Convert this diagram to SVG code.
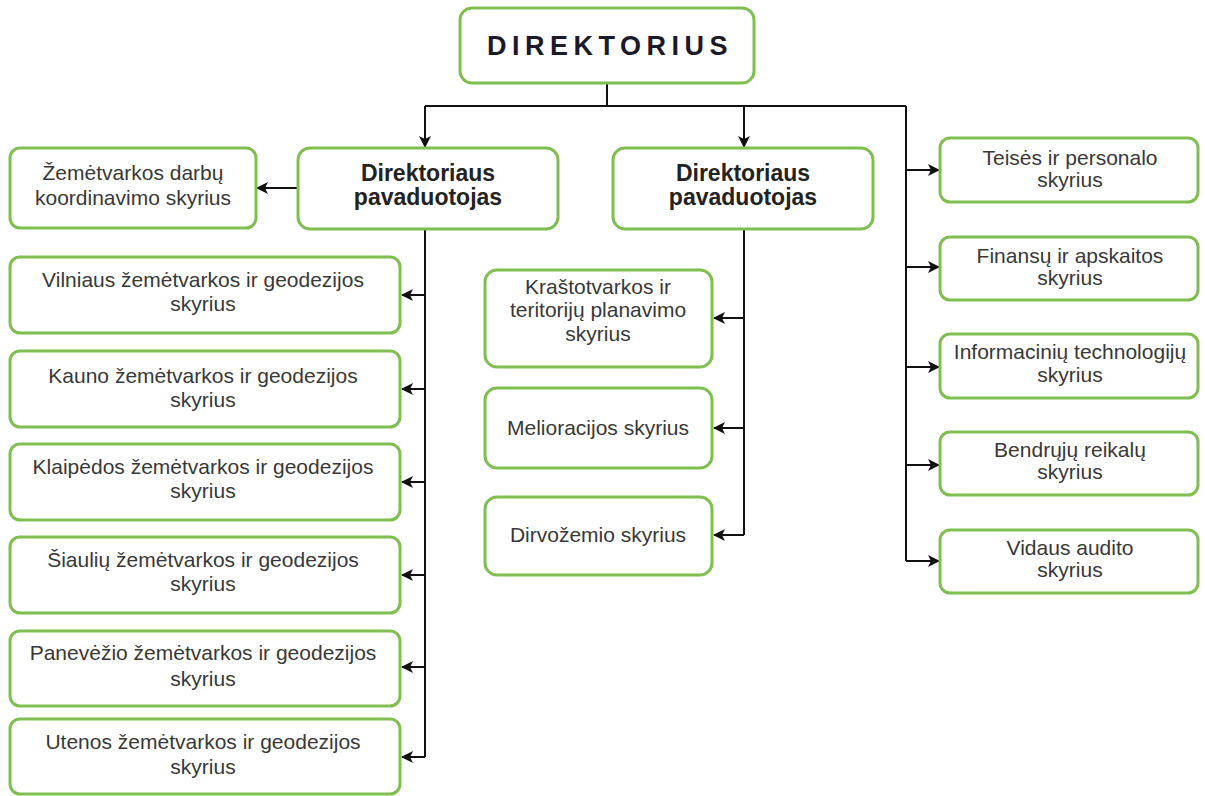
<svg xmlns="http://www.w3.org/2000/svg" width="1205" height="796" viewBox="0 0 1205 796">
<defs>
<marker id="ah" markerWidth="12" markerHeight="12" refX="11" refY="6" orient="auto" markerUnits="userSpaceOnUse">
<path d="M0,0 L12,6 L0,12 L3,6 Z" fill="#111"/>
</marker>
<style>
.box{fill:#fff;stroke:#7fbf50;stroke-width:3}
.t{font-family:"Liberation Sans",Arial,sans-serif;font-size:21px;fill:#383838;text-anchor:middle}
.b{font-family:"Liberation Sans",Arial,sans-serif;font-size:23px;font-weight:bold;fill:#222;text-anchor:middle}
.c{fill:none;stroke:#111;stroke-width:2}
.ca{fill:none;stroke:#111;stroke-width:2;marker-end:url(#ah)}
</style>
</defs>
<rect width="1205" height="796" fill="#fff"/>
<g id="connectors">
<path class="c" d="M607,83 V106 M425,106 H906 M425,229 V757 M744,229 V535 M906,106 V561"/>
<path class="ca" d="M425,106 V147"/>
<path class="ca" d="M744,106 V147"/>
<path class="ca" d="M297,188 H257"/>
<path class="ca" d="M425,295 H402"/>
<path class="ca" d="M425,389 H402"/>
<path class="ca" d="M425,482 H402"/>
<path class="ca" d="M425,575 H402"/>
<path class="ca" d="M425,667 H402"/>
<path class="ca" d="M425,757 H402"/>
<path class="ca" d="M744,318 H714"/>
<path class="ca" d="M744,428 H714"/>
<path class="ca" d="M744,535 H714"/>
<path class="ca" d="M906,170 H939"/>
<path class="ca" d="M906,267 H939"/>
<path class="ca" d="M906,367 H939"/>
<path class="ca" d="M906,465 H939"/>
<path class="ca" d="M906,561 H939"/>
</g>
<g id="direktorius">
<rect class="box" x="460" y="8" width="294" height="75" rx="12"/>
<text x="610" y="55" style="font-family:'Liberation Sans',Arial,sans-serif;font-size:27px;font-weight:bold;fill:#1a1a2a;letter-spacing:5.5px" text-anchor="middle">DIREKTORIUS</text>
</g>
<g id="pav1">
<rect class="box" x="298" y="148" width="260" height="81" rx="12"/>
<text class="b" x="428" y="181">Direktoriaus</text>
<text class="b" x="428" y="205">pavaduotojas</text>
</g>
<g id="pav2">
<rect class="box" x="613" y="148" width="260" height="81" rx="12"/>
<text class="b" x="743" y="181">Direktoriaus</text>
<text class="b" x="743" y="205">pavaduotojas</text>
</g>
<g id="koord">
<rect class="box" x="10" y="148" width="246" height="80" rx="10"/>
<text class="t" x="133" y="180">Žemėtvarkos darbų</text>
<text class="t" x="133" y="205">koordinavimo skyrius</text>
</g>
<g id="vilnius">
<rect class="box" x="10" y="257" width="390" height="76" rx="10"/>
<text class="t" x="203" y="287">Vilniaus žemėtvarkos ir geodezijos</text>
<text class="t" x="203" y="311">skyrius</text>
</g>
<g id="kaunas">
<rect class="box" x="10" y="351" width="390" height="76" rx="10"/>
<text class="t" x="203" y="383">Kauno žemėtvarkos ir geodezijos</text>
<text class="t" x="203" y="407">skyrius</text>
</g>
<g id="klaipeda">
<rect class="box" x="10" y="444" width="390" height="76" rx="10"/>
<text class="t" x="203" y="474">Klaipėdos žemėtvarkos ir geodezijos</text>
<text class="t" x="203" y="498">skyrius</text>
</g>
<g id="siauliai">
<rect class="box" x="10" y="537" width="390" height="76" rx="10"/>
<text class="t" x="203" y="567">Šiaulių žemėtvarkos ir geodezijos</text>
<text class="t" x="203" y="591">skyrius</text>
</g>
<g id="panevezys">
<rect class="box" x="10" y="631" width="390" height="75" rx="10"/>
<text class="t" x="203" y="660">Panevėžio žemėtvarkos ir geodezijos</text>
<text class="t" x="203" y="686">skyrius</text>
</g>
<g id="utena">
<rect class="box" x="10" y="719" width="390" height="75" rx="10"/>
<text class="t" x="203" y="749">Utenos žemėtvarkos ir geodezijos</text>
<text class="t" x="203" y="774">skyrius</text>
</g>
<g id="krastotvarka">
<rect class="box" x="485" y="270" width="227" height="97" rx="12"/>
<text class="t" x="598" y="294">Kraštotvarkos ir</text>
<text class="t" x="598" y="317">teritorijų planavimo</text>
<text class="t" x="598" y="341">skyrius</text>
</g>
<g id="melioracija">
<rect class="box" x="485" y="388" width="227" height="80" rx="12"/>
<text class="t" x="598" y="435">Melioracijos skyrius</text>
</g>
<g id="dirvozemis">
<rect class="box" x="485" y="497" width="227" height="78" rx="12"/>
<text class="t" x="598" y="542">Dirvožemio skyrius</text>
</g>
<g id="teises">
<rect class="box" x="940" y="138" width="258" height="64" rx="10"/>
<text class="t" x="1070" y="165">Teisės ir personalo</text>
<text class="t" x="1070" y="187">skyrius</text>
</g>
<g id="finansu">
<rect class="box" x="940" y="237" width="258" height="63" rx="10"/>
<text class="t" x="1070" y="263">Finansų ir apskaitos</text>
<text class="t" x="1070" y="285">skyrius</text>
</g>
<g id="it">
<rect class="box" x="940" y="334" width="258" height="64" rx="10"/>
<text class="t" x="1070" y="359">Informacinių technologijų</text>
<text class="t" x="1070" y="382">skyrius</text>
</g>
<g id="bendruju">
<rect class="box" x="940" y="432" width="258" height="63" rx="10"/>
<text class="t" x="1070" y="457">Bendrųjų reikalų</text>
<text class="t" x="1070" y="479">skyrius</text>
</g>
<g id="vidaus">
<rect class="box" x="940" y="530" width="258" height="63" rx="10"/>
<text class="t" x="1070" y="555">Vidaus audito</text>
<text class="t" x="1070" y="577">skyrius</text>
</g>
</svg>
